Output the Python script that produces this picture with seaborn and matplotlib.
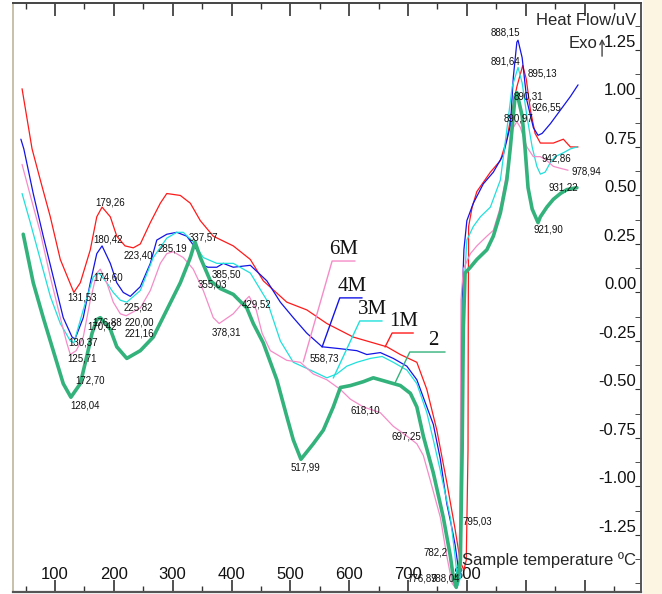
import matplotlib
matplotlib.use("Agg")
import matplotlib.pyplot as plt
import seaborn as sns
from matplotlib.patches import Rectangle
from matplotlib.ticker import MultipleLocator

# DTA curves, temperature in degC and heat flow in uV
red_t = [44, 61, 75, 92, 109, 132, 143, 160, 171, 180, 194, 205, 219, 233, 245, 262, 279, 290, 313, 330,
         347, 369, 403, 432, 454, 494, 528, 562, 607, 664, 687, 715, 732, 749, 766, 780, 789, 795, 799, 802,
         802.5, 803, 809, 817, 840, 857, 868, 877, 885, 895, 901, 908, 916, 925, 947, 964, 976, 989]
red_v = [1.05, 0.74, 0.58, 0.39, 0.17, 0.00, 0.05, 0.22, 0.39, 0.44, 0.39, 0.29, 0.24, 0.23, 0.25, 0.36, 0.46, 0.51, 0.50, 0.46,
         0.37, 0.29, 0.24, 0.17, 0.06, -0.05, -0.09, -0.16, -0.23, -0.28, -0.32, -0.36, -0.50, -0.71, -0.98, -1.22, -1.39, -1.43, -1.38, -0.81,
         -0.04, 0.34, 0.44, 0.52, 0.62, 0.68, 0.79, 0.94, 1.06, 1.17, 1.10, 0.94, 0.82, 0.77, 0.77, 0.79, 0.75, 0.75]

blue_t = [42, 47, 63, 80, 97, 114, 129, 134, 148, 160, 171, 180, 194, 205, 216, 228, 245, 262, 273, 290,
          307, 324, 341, 352, 360, 375, 386, 403, 432, 460, 483, 505, 528, 554, 585, 613, 630, 653, 675, 698,
          715, 732, 743, 755, 766, 775, 780, 785, 788, 790, 791, 792, 795, 800, 811, 828, 845, 862, 874, 879,
          885, 887, 894, 902, 913, 921, 928, 942, 959, 976, 989]
blue_v = [0.79, 0.74, 0.51, 0.29, 0.08, -0.13, -0.23, -0.24, -0.13, 0.05, 0.20, 0.24, 0.15, 0.05, 0.00, -0.02, 0.03, 0.15, 0.27, 0.30,
          0.31, 0.29, 0.22, 0.14, 0.13, 0.13, 0.15, 0.13, 0.14, 0.06, -0.05, -0.13, -0.21, -0.28, -0.29, -0.30, -0.32, -0.31, -0.34, -0.38,
          -0.45, -0.59, -0.68, -0.86, -1.09, -1.22, -1.30, -1.41, -1.46, -1.38, -0.55, -0.04, 0.22, 0.37, 0.46, 0.56, 0.62, 0.71, 0.86, 1.11,
          1.29, 1.30, 1.21, 0.99, 0.85, 0.81, 0.82, 0.87, 0.94, 1.01, 1.07]

cyan_t = [44, 58, 75, 92, 109, 126, 132, 148, 165, 175, 188, 199, 211, 222, 245, 267, 290, 307, 318, 335,
          352, 375, 403, 432, 460, 483, 505, 534, 562, 579, 596, 613, 636, 656, 675, 698, 715, 732, 743, 755,
          772, 780, 785, 790, 792, 794, 800, 811, 823, 840, 857, 868, 877, 887, 894, 902, 911, 919, 925, 933,
          942, 950, 964, 976, 987]
cyan_v = [0.51, 0.36, 0.17, -0.02, -0.16, -0.25, -0.26, -0.09, 0.08, 0.10, 0.05, 0.00, -0.04, -0.05, 0.01, 0.18, 0.28, 0.31, 0.31, 0.26,
          0.18, 0.15, 0.15, 0.10, -0.04, -0.25, -0.36, -0.40, -0.44, -0.42, -0.38, -0.36, -0.34, -0.33, -0.36, -0.40, -0.47, -0.62, -0.76, -0.92,
          -1.16, -1.36, -1.51, -1.46, -0.81, -0.04, 0.27, 0.34, 0.39, 0.44, 0.58, 0.84, 1.06, 1.16, 1.08, 0.91, 0.75, 0.65, 0.61, 0.62,
          0.67, 0.70, 0.72, 0.74, 0.75]

pink_t = [44, 58, 75, 92, 109, 120, 126, 136, 148, 160, 171, 177, 188, 199, 211, 221, 245, 262, 279, 290,
          301, 318, 335, 352, 369, 379, 403, 420, 430, 442, 452, 466, 494, 517, 539, 562, 585, 602, 624, 653,
          675, 698, 715, 726, 738, 755, 766, 775, 780, 787, 789, 790, 794, 806, 817, 834, 845, 857, 868, 874,
          877, 885, 891, 902, 913, 925, 936, 947, 959, 972]
pink_v = [0.66, 0.50, 0.31, 0.08, -0.13, -0.26, -0.32, -0.30, -0.23, -0.04, 0.10, 0.12, 0.05, -0.05, -0.11, -0.12, -0.08, 0.01, 0.15, 0.20,
          0.21, 0.18, 0.12, 0.01, -0.13, -0.16, -0.11, -0.05, -0.02, -0.09, -0.21, -0.30, -0.35, -0.36, -0.42, -0.45, -0.50, -0.55, -0.59, -0.62,
          -0.69, -0.74, -0.78, -0.84, -0.97, -1.16, -1.36, -1.50, -1.52, -1.43, -0.81, -0.04, 0.12, 0.20, 0.24, 0.29, 0.32, 0.44, 0.62, 0.74,
          0.84, 0.88, 0.85, 0.75, 0.70, 0.70, 0.68, 0.65, 0.64, 0.63]

green_t = [46, 63, 80, 97, 114, 127, 143, 154, 163, 171, 177, 194, 205, 222, 245, 267, 290, 313, 330, 338,
           347, 364, 381, 403, 426, 437, 454, 477, 494, 505, 518, 539, 556, 573, 585, 602, 624, 641, 664, 687,
           704, 715, 726, 743, 760, 772, 777, 782, 789, 792, 794, 797, 806, 817, 834, 845, 857, 868, 874, 877,
           882, 885, 894, 899, 904, 911, 921, 925, 936, 947, 959, 970, 987]
green_v = [0.30, 0.05, -0.13, -0.30, -0.47, -0.54, -0.47, -0.33, -0.21, -0.14, -0.13, -0.19, -0.28, -0.34, -0.30, -0.23, -0.09, 0.05, 0.18, 0.26,
           0.18, 0.06, 0.02, -0.01, -0.08, -0.16, -0.26, -0.45, -0.64, -0.76, -0.86, -0.78, -0.71, -0.59, -0.49, -0.48, -0.46, -0.44, -0.46, -0.48,
           -0.52, -0.59, -0.74, -0.93, -1.16, -1.36, -1.47, -1.52, -1.38, -0.81, -0.19, 0.10, 0.13, 0.17, 0.22, 0.29, 0.41, 0.58, 0.75, 0.85,
           1.01, 1.03, 0.91, 0.74, 0.54, 0.43, 0.36, 0.39, 0.44, 0.48, 0.51, 0.53, 0.54]

# peak labels: text, temperature, heat flow
peak_text = ["179,26", "180,42", "131,53", "223,40", "285,19", "337,57", "385,50", "355,03", "174,60", "225,82",
             "176,88", "170,42", "220,00", "221,16", "378,31", "130,37", "125,71", "172,70", "128,04", "429,52",
             "558,73", "618,10", "697,25", "517,99", "795,03", "782,2", "776,89", "788,04", "888,15", "891,64",
             "895,13", "890,31", "926,55", "890,97", "942,86", "978,94", "931,22", "921,90"]
peak_t = [193, 190, 146, 241, 299, 352, 392, 367, 190, 241,
          188, 180, 244, 244, 392, 148, 146, 160, 151, 443,
          557, 627, 698, 525, 817, 746, 724, 763, 865, 865,
          928, 904, 936, 887, 953, 1004, 964, 938]
peak_v = [0.466, 0.275, -0.028, 0.193, 0.224, 0.281, 0.090, 0.039, 0.075, -0.075,
          -0.157, -0.178, -0.157, -0.209, -0.204, -0.260, -0.343, -0.456, -0.585, -0.064,
          -0.343, -0.606, -0.745, -0.900, -1.180, -1.338, -1.472, -1.472, 1.338, 1.188,
          1.131, 1.008, 0.951, 0.899, 0.688, 0.621, 0.539, 0.322]

series = [
    ("1M", red_t, red_v, "#FF1A1A", 0.9),
    ("4M", blue_t, blue_v, "#1414E6", 0.9),
    ("3M", cyan_t, cyan_v, "#1FE0DC", 0.9),
    ("6M", pink_t, pink_v, "#F58CC8", 0.9),
    ("2", green_t, green_v, "#33B27C", 2.6),
]

# sample tags with leader lines: text x, underline start/end, line end on curve
tag_names = ["6M", "4M", "3M", "1M", "2"]
tag_colors = ["#F58CC8", "#1414E6", "#1FE0DC", "#FF1A1A", "#33B27C"]
tag_text_t = [590, 605, 639, 692, 743]
tag_line_t0 = [571, 584, 618, 673, 703]
tag_line_t1 = [610, 622, 656, 709, 763]
tag_line_v = [0.162, -0.028, -0.147, -0.209, -0.307]
tag_end_t = [522, 554, 573, 661, 678]
tag_end_v = [-0.358, -0.281, -0.441, -0.281, -0.466]

sns.set_style("white")
plt.rcParams["font.family"] = ["Liberation Sans", "DejaVu Sans"]

fig = plt.figure(figsize=(6.62, 5.94), dpi=100)
fig.patches.append(Rectangle((0.972, 0), 0.028, 1, transform=fig.transFigure,
                             facecolor="#FCF5E2", edgecolor="none", zorder=0))
ax = fig.add_axes([13 / 662, 2 / 594, 628 / 662, 589 / 594])

for name, t, v, color, lw in series:
    sns.lineplot(x=t, y=v, ax=ax, color=color, linewidth=lw, sort=False, estimator=None)

for txt, t, v in zip(peak_text, peak_t, peak_v):
    ax.text(t, v, txt, fontsize=7, ha="center", va="center", color="#111111",
            family=["Liberation Sans Narrow", "Liberation Sans", "DejaVu Sans"])

for i, name in enumerate(tag_names):
    c = tag_colors[i]
    ax.plot([tag_end_t[i], tag_line_t0[i], tag_line_t1[i]],
            [tag_end_v[i], tag_line_v[i], tag_line_v[i]], color=c, linewidth=1)
    ax.text(tag_text_t[i], tag_line_v[i] + 0.008, name, fontsize=15, ha="center", va="bottom",
            family=["Liberation Serif", "DejaVu Serif"], color="#111111")

ax.set_xlim(28.6, 1096)
ax.set_ylim(-1.544, 1.492)

xt = [100, 200, 300, 400, 500, 600, 700, 800, 900, 1000]
ax.set_xticks(xt)
ax.set_xticklabels([str(t) if t <= 800 else "" for t in xt])
ax.xaxis.set_minor_locator(MultipleLocator(50))
ax.tick_params(axis="x", which="both", direction="in", top=True, bottom=True, colors="#333333",
               labelsize=12, pad=-7)
ax.tick_params(axis="x", which="major", length=9, width=1.2)
ax.tick_params(axis="x", which="minor", length=4, width=1)
for lab in ax.get_xticklabels():
    lab.set_verticalalignment("bottom")
    lab.set_color("#111111")

yt = [-1.25, -1.0, -0.75, -0.5, -0.25, 0.0, 0.25, 0.5, 0.75, 1.0, 1.25]
ax.yaxis.tick_right()
ax.set_yticks(yt)
ax.set_yticklabels([f"{y:.2f}" for y in yt])
ax.yaxis.set_minor_locator(MultipleLocator(0.125))
ax.tick_params(axis="y", which="both", direction="in", left=False, right=True, labelright=True,
               labelleft=False, length=4, colors="#333333", labelsize=12, pad=-3.5)
for lab in ax.get_yticklabels():
    lab.set_horizontalalignment("right")
    lab.set_verticalalignment("bottom")
    lab.set_color("#111111")

for side, col, lw in [("left", "#BDB59C", 1.2), ("top", "#444444", 1.4),
                      ("bottom", "#555555", 1.6), ("right", "#555555", 1.4)]:
    ax.spines[side].set_color(col)
    ax.spines[side].set_linewidth(lw)
    ax.spines[side].set_visible(True)

ax.text(0.992, 0.971, "Heat Flow/uV", transform=ax.transAxes, ha="right", va="center", fontsize=12)
ax.text(0.9315, 0.932, "Exo", transform=ax.transAxes, ha="right", va="center", fontsize=12)
ax.annotate("", xy=(0.938, 0.944), xytext=(0.938, 0.905), xycoords="axes fraction",
            arrowprops=dict(arrowstyle="->", color="#444444", lw=1, mutation_scale=8))
ax.text(0.992, 0.054, "Sample temperature ºC", transform=ax.transAxes, ha="right", va="center",
        fontsize=12)

ax.set_xlabel("")
ax.set_ylabel("")
ax.grid(False)

fig.savefig("out.png", dpi=100)
plt.close(fig)
